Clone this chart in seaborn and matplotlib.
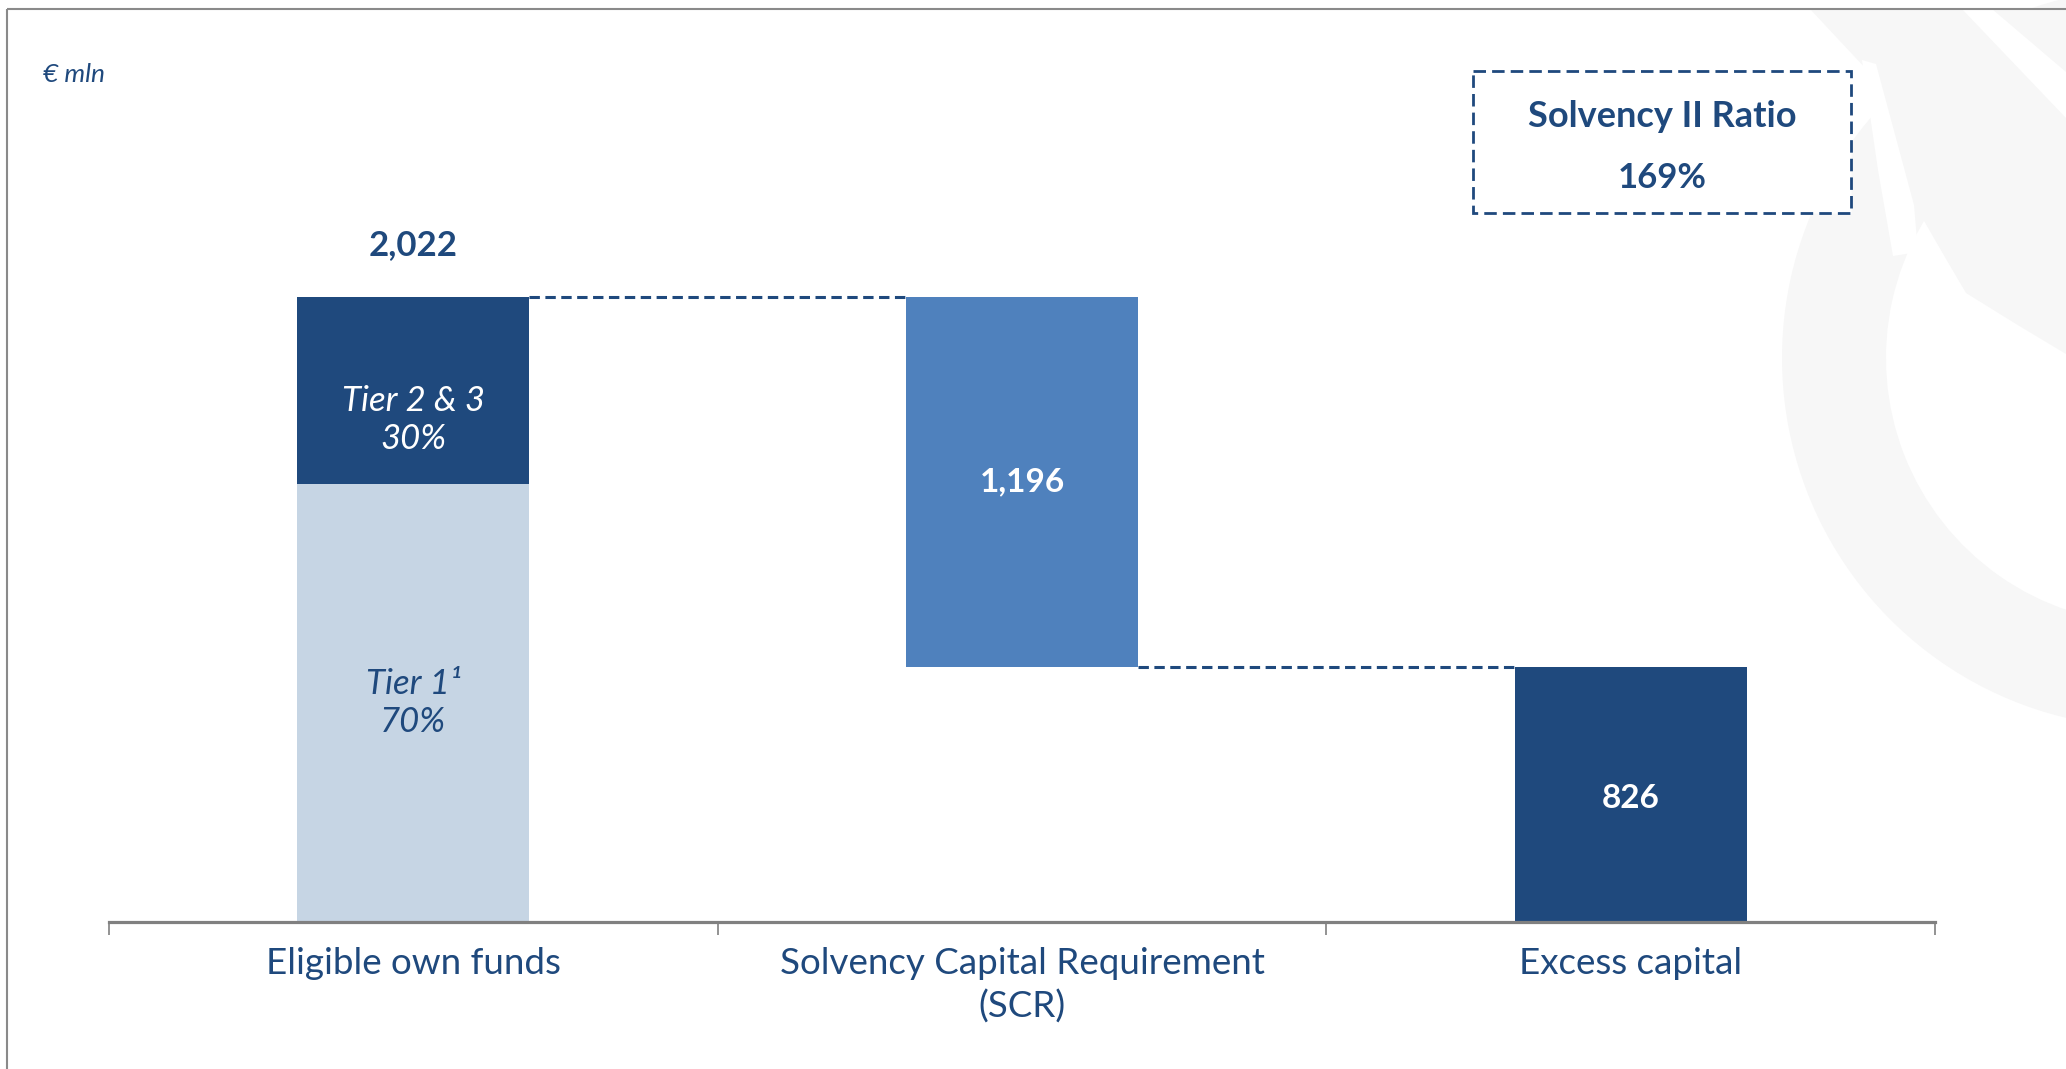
import matplotlib
matplotlib.use("Agg")
import matplotlib.pyplot as plt
from matplotlib.patches import Rectangle, Wedge, Polygon
import pandas as pd
import seaborn as sns

# ---- data (EUR mln) ----
categories = ["Eligible own funds", "Solvency Capital Requirement\n(SCR)", "Excess capital"]
own_funds = 2022
scr = 1196
excess = 826
tier_names = ["Tier 1\u00b9", "Tier 2 & 3"]
tier_shares = [0.70, 0.30]
ratio_title = "Solvency II Ratio"
ratio_label = "169%"

# ---- style ----
NAVY = "#1F497D"
MID = "#4F81BD"
LIGHT = "#C6D5E4"
AXIS_GREY = "#808080"
WATERMARK = "#F7F7F7"
BAR_W = 0.381

sns.set_theme(style="white")
plt.rcParams["font.family"] = ["Lato", "DejaVu Sans"]

W, H = 2066, 1069
fig = plt.figure(figsize=(W / 100, H / 100), dpi=100)
fig.patch.set_facecolor("white")

# background layer in pixel coordinates (y grows downward)
bg = fig.add_axes([0, 0, 1, 1], zorder=0)
bg.set_xlim(0, W)
bg.set_ylim(H, 0)
bg.axis("off")

# faint logo watermark on the right: ring, head shape, then white cut lines
wm = dict(facecolor=WATERMARK, edgecolor="none")
cut = dict(facecolor="white", edgecolor="none")
bg.add_patch(Wedge((2152, 358), 370, -10, 260, width=104, **wm))
bg.add_patch(Polygon([(1810, 9), (2066, 9), (2066, 354), (2016, 324), (1966, 293),
                      (1946, 259), (1916, 207), (1906, 170), (1867, 70)],
                     closed=True, **wm))
bg.add_patch(Polygon([(1862, 60), (1876, 64), (1914, 205), (1918, 252), (1893, 256),
                      (1878, 170)], closed=True, **cut))
bg.add_patch(Polygon([(1962, 9), (1992, 9), (2066, 72), (2066, 118)], closed=True, **cut))

# slide frame (left and top edges)
bg.add_patch(Rectangle((7, 9), 3000, 3000, fill=False, edgecolor="#8a8a8a", lw=1.5))

bg.text(43, 82, "\u20ac mln", fontsize=19, style="italic", color=NAVY, va="baseline", ha="left")

# Solvency ratio callout
bg.add_patch(Rectangle((1473, 71), 378, 142, facecolor="white", edgecolor=NAVY, lw=2,
                       linestyle=(0, (4.5, 2.2))))
bg.text(1662, 127, ratio_title, fontsize=26, fontweight="bold", color=NAVY,
        ha="center", va="baseline")
bg.text(1662, 188, ratio_label, fontsize=25, fontweight="bold", color=NAVY,
        ha="center", va="baseline")

# ---- main waterfall axes ----
ax = fig.add_axes([109 / W, (H - 922) / H, (1935 - 109) / W, (922 - 10) / H], zorder=1)
ax.patch.set_alpha(0)

tier1 = own_funds * tier_shares[0]
tier23 = own_funds * tier_shares[1]

base = pd.DataFrame({
    "category": categories,
    "value": [tier1, scr, excess],
    "start": [0, own_funds - scr, 0],
})
top = pd.DataFrame({"category": [categories[0]], "value": [tier23]})

sns.barplot(data=base, x="category", y="value", order=categories, width=BAR_W,
            bottom=base["start"].to_numpy(), errorbar=None, saturation=1,
            color=NAVY, edgecolor="none", linewidth=0, ax=ax)
sns.barplot(data=top, x="category", y="value", order=categories, width=BAR_W,
            bottom=tier1, errorbar=None, saturation=1,
            color=NAVY, edgecolor="none", linewidth=0, ax=ax)

for patch, c in zip(ax.patches, [LIGHT, MID, NAVY, NAVY]):
    patch.set_facecolor(c)

ax.set_xlim(-0.5, 2.5)
ax.set_ylim(0, 2950)
ax.set_xlabel("")
ax.set_ylabel("")
ax.set_yticks([])

ax.set_xticks(range(len(categories)))
ax.set_xticklabels(categories, fontsize=26.5, color=NAVY, linespacing=1.35)
ax.set_xticks([-0.5, 0.5, 1.5, 2.5], minor=True)
ax.tick_params(axis="x", which="major", length=0, pad=18, bottom=True)
ax.tick_params(axis="x", which="minor", length=9, width=1.2, color=AXIS_GREY,
               direction="out", bottom=True)

for side in ["left", "right", "top"]:
    ax.spines[side].set_visible(False)
ax.spines["bottom"].set_color(AXIS_GREY)
ax.spines["bottom"].set_linewidth(2.3)

# connectors between bars
dash = dict(color=NAVY, lw=2.2, linestyle=(0, (3.4, 1.8)))
ax.plot([0 + BAR_W / 2, 1 - BAR_W / 2], [own_funds, own_funds], **dash)
ax.plot([1 + BAR_W / 2, 2 - BAR_W / 2], [excess, excess], **dash)

# value labels
ax.annotate(f"{own_funds:,}", (0, own_funds), xytext=(0, 37), textcoords="offset points",
            ha="center", va="center", fontsize=25, fontweight="bold", color=NAVY)
ax.text(1, own_funds - scr / 2, f"{scr:,}", ha="center", va="center",
        fontsize=24, fontweight="bold", color="white")
ax.annotate(f"{excess:,}", (2, excess / 2), xytext=(0, -3), textcoords="offset points",
            ha="center", va="center", fontsize=24, fontweight="bold", color="white")

# tier split labels
ax.annotate(f"{tier_names[1]}\n{tier_shares[1]:.0%}", (0, tier1 + tier23 / 2),
            xytext=(0, -21), textcoords="offset points", ha="center", va="center",
            fontsize=25, style="italic", color="white", linespacing=1.25)
ax.annotate(f"{tier_names[0]}\n{tier_shares[0]:.0%}", (0, tier1 / 2),
            xytext=(0, 0), textcoords="offset points", ha="center", va="center",
            fontsize=25, style="italic", color=NAVY, linespacing=1.25)

fig.savefig("out.png", dpi=100, facecolor="white")
